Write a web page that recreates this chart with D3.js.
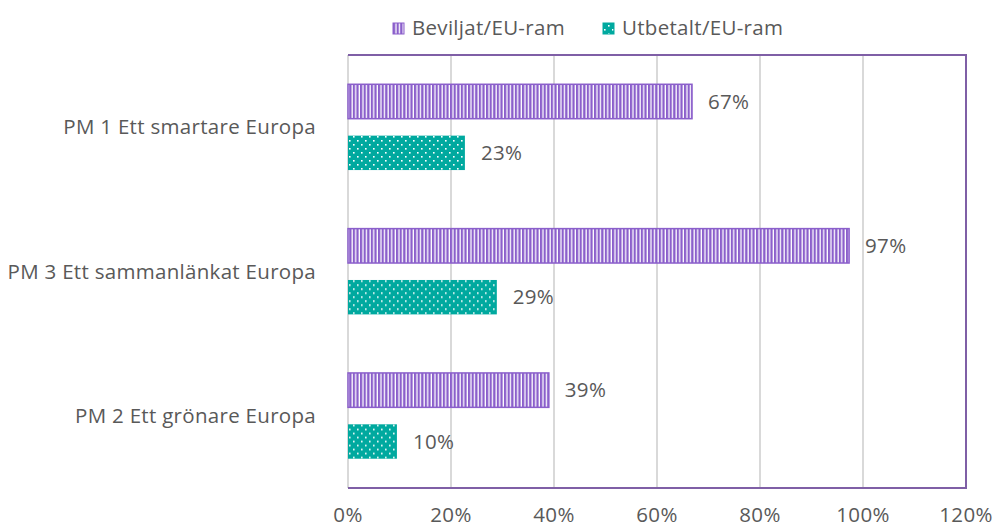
<!DOCTYPE html>
<html>
<head>
<meta charset="utf-8">
<script src="https://cdn.jsdelivr.net/npm/d3@7"></script>
<style>
  body { margin: 0; background: #fff; }
  text { font-family: "Open Sans", sans-serif; fill: #595959; font-size: 20.5px; letter-spacing: 0.3px; }
</style>
</head>
<body>
<script>
// chart data
var categories = ["PM 1 Ett smartare Europa", "PM 3 Ett sammanlänkat Europa", "PM 2 Ett grönare Europa"];
var seriesNames = ["Beviljat/EU-ram", "Utbetalt/EU-ram"];
var beviljat = [0.668, 0.973, 0.39];
var utbetalt = [0.227, 0.289, 0.095];
var xTicks = [0, 0.2, 0.4, 0.6, 0.8, 1.0, 1.2];

var width = 993, height = 528;
var margin = {top: 55, right: 27, bottom: 40, left: 348};

var svg = d3.select("body").append("svg")
    .attr("width", width)
    .attr("height", height);

var defs = svg.append("defs");

// vertical stripes for Beviljat
var stripes = defs.append("pattern")
    .attr("id", "stripes")
    .attr("patternUnits", "userSpaceOnUse")
    .attr("width", 3.6).attr("height", 4);
stripes.append("rect").attr("width", 3.6).attr("height", 4).attr("fill", "#fff");
stripes.append("rect").attr("width", 2.3).attr("height", 4).attr("fill", "#8b5fcb");

// dots for Utbetalt
var dots = defs.append("pattern")
    .attr("id", "dots")
    .attr("patternUnits", "userSpaceOnUse")
    .attr("width", 8).attr("height", 8);
dots.append("rect").attr("width", 8).attr("height", 8).attr("fill", "#00a99f");
dots.append("rect").attr("x", 1).attr("y", 1).attr("width", 1.6).attr("height", 1.6).attr("fill", "#fff");
dots.append("rect").attr("x", 5).attr("y", 5).attr("width", 1.6).attr("height", 1.6).attr("fill", "#fff");

var fills = ["url(#stripes)", "url(#dots)"];
var strokes = ["#8b5fcb", "#00a99f"];

var x = d3.scaleLinear()
    .domain([0, 1.2])
    .range([margin.left, width - margin.right]);

var y = d3.scaleBand()
    .domain(categories)
    .range([margin.top, height - margin.bottom]);

var ySub = d3.scaleBand()
    .domain(seriesNames)
    .range([0, y.bandwidth()])
    .paddingInner(0.33)
    .paddingOuter(0.57);

// gridlines
svg.append("g")
    .selectAll("line")
    .data(xTicks)
    .enter().append("line")
    .attr("x1", d => x(d)).attr("x2", d => x(d))
    .attr("y1", margin.top).attr("y2", height - margin.bottom)
    .attr("stroke", "#d9d9d9")
    .attr("stroke-width", 2);

// plot border (top, right, bottom)
svg.append("path")
    .attr("d", "M" + x(0) + "," + margin.top + "H" + x(1.2) + "V" + (height - margin.bottom) + "H" + x(0))
    .attr("fill", "none")
    .attr("stroke", "#7f5fa6")
    .attr("stroke-width", 2);

var rows = categories.map((c, i) => ({cat: c, vals: [beviljat[i], utbetalt[i]]}));

var groups = svg.append("g")
    .selectAll("g")
    .data(rows)
    .enter().append("g")
    .attr("transform", d => "translate(0," + y(d.cat) + ")");

groups.selectAll("rect")
    .data(d => d.vals.map((v, j) => ({v: v, s: seriesNames[j], j: j})))
    .enter().append("rect")
    .attr("x", x(0))
    .attr("y", d => ySub(d.s))
    .attr("width", d => x(d.v) - x(0))
    .attr("height", ySub.bandwidth())
    .attr("fill", d => fills[d.j])
    .attr("stroke", d => d.j === 0 ? strokes[0] : "none")
    .attr("stroke-width", 1.5);

groups.selectAll("text.val")
    .data(d => d.vals.map((v, j) => ({v: v, s: seriesNames[j]})))
    .enter().append("text")
    .attr("class", "val")
    .attr("x", d => x(d.v) + 16)
    .attr("y", d => ySub(d.s) + ySub.bandwidth() / 2)
    .attr("dy", "0.35em")
    .text(d => Math.round(d.v * 100) + "%");

// category labels
svg.append("g")
    .selectAll("text")
    .data(categories)
    .enter().append("text")
    .attr("x", 316)
    .attr("y", d => y(d) + y.bandwidth() / 2)
    .attr("dy", "0.35em")
    .attr("text-anchor", "end")
    .text(d => d);

// x tick labels
svg.append("g")
    .selectAll("text")
    .data(xTicks)
    .enter().append("text")
    .attr("x", d => x(d))
    .attr("y", 515)
    .attr("dy", "0.35em")
    .attr("text-anchor", "middle")
    .text(d3.format(".0%"));

// legend
var legendX = [393, 603];
var legend = svg.append("g")
    .selectAll("g")
    .data(seriesNames)
    .enter().append("g")
    .attr("transform", (d, i) => "translate(" + legendX[i] + ",28)");

legend.append("rect")
    .attr("x", 0).attr("y", -5)
    .attr("width", 11).attr("height", 11)
    .attr("fill", (d, i) => fills[i])
    .attr("stroke", (d, i) => strokes[i])
    .attr("stroke-width", 1);

legend.append("text")
    .attr("x", 19)
    .attr("y", 0)
    .attr("dy", "0.35em")
    .text(d => d);
</script>
</body>
</html>
